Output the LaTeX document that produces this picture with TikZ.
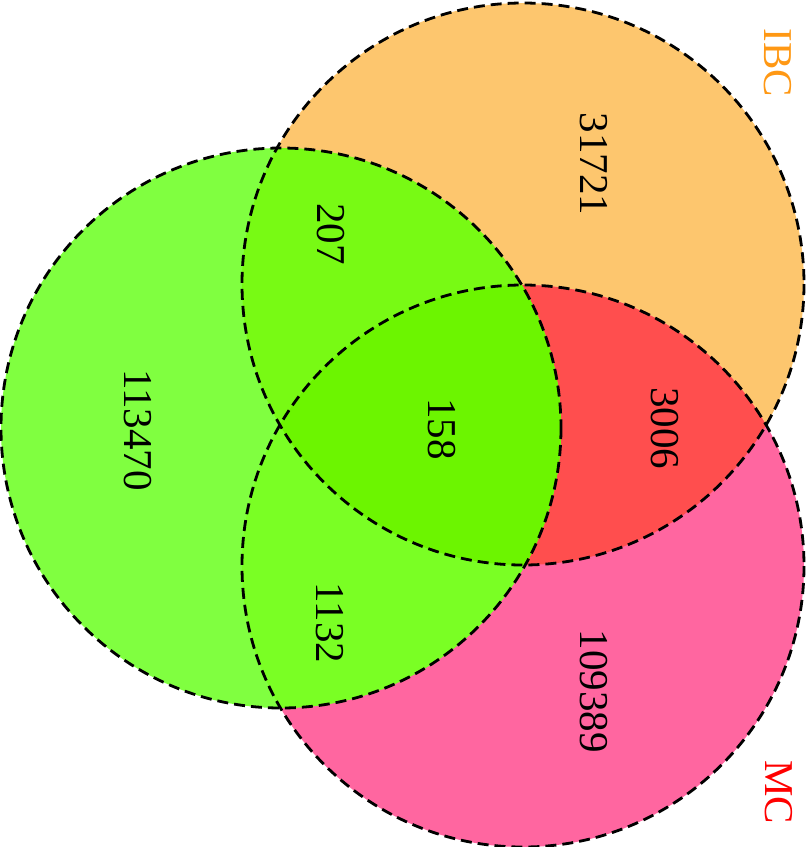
\documentclass[tikz,border=0pt]{standalone}
\usepackage{fontspec}
\setmainfont{Liberation Serif}
\usepackage{tikz}
\definecolor{ibcfill}{RGB}{253,198,110}
\definecolor{mcfill}{RGB}{255,102,160}
\definecolor{ibcmc}{RGB}{255,78,78}
\definecolor{setA}{RGB}{128,255,64}
\definecolor{setAibc}{RGB}{120,250,20}
\definecolor{setAmc}{RGB}{122,255,36}
\definecolor{setAll}{RGB}{108,245,0}
\definecolor{ibclabel}{RGB}{255,152,20}
\definecolor{mclabel}{RGB}{255,0,0}

\begin{document}
\begin{tikzpicture}[x=0.5pt, y=-0.5pt, font=\fontsize{20.5}{24}\selectfont,
  vline/.style={draw=black, dashed, dash pattern=on 5.5pt off 3pt, line width=1.4pt},
  num/.style={rotate=-90, inner sep=0pt}]
\useasboundingbox (0,0) rectangle (808,847);
% circles
\coordinate (cA) at (281,428);
\coordinate (cI) at (523,284);
\coordinate (cM) at (523,566);
\fill[ibcfill] (cI) circle (281);
\fill[mcfill] (cM) circle (281);
\begin{scope}
  \clip (cI) circle (281);
  \fill[ibcmc] (cM) circle (281);
\end{scope}
\fill[setA] (cA) circle (280);
\begin{scope}
  \clip (cA) circle (280);
  \fill[setAibc] (cI) circle (281);
  \fill[setAmc] (cM) circle (281);
  \clip (cI) circle (281);
  \fill[setAll] (cM) circle (281);
\end{scope}
\draw[vline] (cA) circle (280);
\draw[vline] (cI) circle (281);
\draw[vline] (cM) circle (281);
% counts
\node[num] (nI) at (594,164) {31721};
\node[num] (nAI) at (331,234) {207};
\node[num] (nA) at (138,430) {113470};
\node[num] (nAll) at (442,429) {158};
\node[num] (nIM) at (665,428) {3006};
\node[num] (nAM) at (330,623) {1132};
\node[num] (nM) at (594,691) {109389};
% set labels
\node[num, text=ibclabel] (lI) at (778,63) {IBC};
\node[num, text=mclabel] (lM) at (779,792) {MC};
\end{tikzpicture}
\end{document}
